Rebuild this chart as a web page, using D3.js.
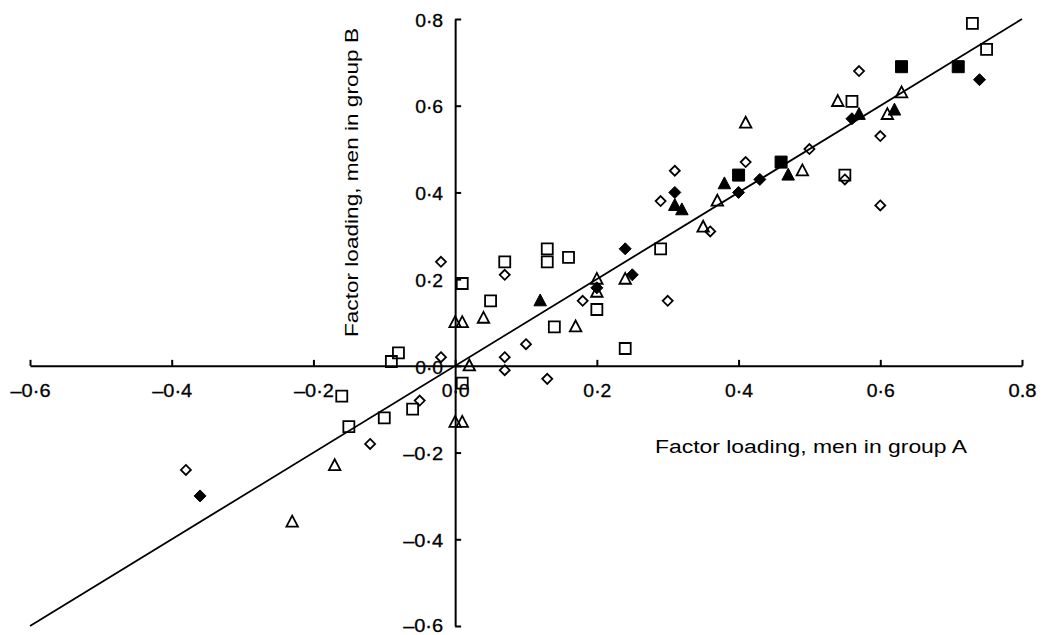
<!DOCTYPE html>
<html lang="en">

<head>
	<meta charset="utf-8">
	<style>
		body {
			margin: 0;
			background-color: white;
		}

		svg {
			background-color: white;
			font-family: 'Liberation Sans', Arial, sans-serif;
		}

		.axis path,
		.axis line {
			stroke: black;
			stroke-width: 2px;
		}

		.title {
			font-size: 18px;
			fill: black;
		}

		.identity {
			stroke: black;
			stroke-width: 1.8px;
			fill: none;
		}
	</style>
</head>

<body>
	<svg width="1044" height="635"></svg>
	<script src="https://d3js.org/d3.v7.min.js"></script>
	<script>
		// loadings: [group A, group B]
		const openDiamond = [
			[0.57, 0.68], [0.60, 0.53], [0.60, 0.37], [0.50, 0.50], [0.41, 0.47], [0.55, 0.43],
			[0.36, 0.31], [0.31, 0.45], [0.29, 0.38], [0.18, 0.15], [0.30, 0.15], [-0.02, 0.24],
			[0.07, 0.21], [0.10, 0.05], [0.07, 0.02], [0.07, -0.01], [0.13, -0.03], [-0.02, 0.02],
			[-0.05, -0.08], [-0.38, -0.24], [-0.12, -0.18]
		];
		const filledDiamond = [
			[0.74, 0.66], [0.56, 0.57], [0.43, 0.43], [0.40, 0.40], [0.24, 0.27], [0.25, 0.21],
			[0.31, 0.40], [0.20, 0.18], [-0.36, -0.30]
		];
		const openTriangle = [
			[0.63, 0.63], [0.61, 0.58], [0.54, 0.61], [0.41, 0.56], [0.49, 0.45], [0.37, 0.38],
			[0.35, 0.32], [0.24, 0.20], [0.17, 0.09], [0.20, 0.20], [0.20, 0.17], [0.04, 0.11],
			[0.01, 0.10], [0.00, 0.10], [0.02, 0.00], [0.00, -0.13], [0.01, -0.13], [-0.17, -0.23],
			[-0.23, -0.36]
		];
		const filledTriangle = [
			[0.62, 0.59], [0.57, 0.58], [0.47, 0.44], [0.38, 0.42], [0.31, 0.37], [0.32, 0.36],
			[0.12, 0.15]
		];
		const openSquare = [
			[0.73, 0.79], [0.75, 0.73], [0.56, 0.61], [0.55, 0.44], [0.29, 0.27], [0.13, 0.27],
			[0.13, 0.24], [0.16, 0.25], [0.07, 0.24], [0.01, 0.19], [0.05, 0.15], [0.14, 0.09],
			[0.20, 0.13], [0.24, 0.04], [-0.09, 0.01], [-0.08, 0.03], [0.01, -0.04], [-0.16, -0.07],
			[-0.15, -0.14], [-0.10, -0.12], [-0.06, -0.10]
		];
		const filledSquare = [
			[0.63, 0.69], [0.71, 0.69], [0.46, 0.47], [0.40, 0.44]
		];

		const tickValues = [-0.6, -0.4, -0.2, 0, 0.2, 0.4, 0.6, 0.8];
		const xTickLabels = ["–0·6", "–0·4", "–0·2", "0·0", "0·2", "0·4", "0·6", "0.8"];
		const yTickLabels = ["–0·6", "–0·4", "–0·2", "0·0", "0·2", "0·4", "0·6", "0·8"];
		const identityLine = [[-0.6, -0.6], [0.8, 0.8]];

		const xTitle = "Factor loading, men in group A";
		const yTitle = "Factor loading, men in group B";

		//basic set up
		const svg = d3.select("svg");
		const x = d3.scaleLinear().domain([-0.6, 0.8]).range([30, 1022]);
		const y = d3.scaleLinear().domain([-0.6, 0.8]).range([626, 19]);

		// the printed digits are wider than Liberation Sans, so stretch each label
		const styleTicks = function (g) {
			g.attr("font-family", null).attr("font-size", null);
			g.selectAll("text")
				.attr("font-size", 18)
				.attr("fill", "black")
				.attr("stroke", "black")
				.attr("stroke-width", 0.3)
				.attr("textLength", function () { return this.textContent.length > 3 ? 40 : 28; })
				.attr("lengthAdjust", "spacingAndGlyphs");
		}

		// axes cross at the origin
		const xAxis = d3.axisBottom(x)
			.tickValues(tickValues)
			.tickSizeInner(-6)
			.tickSizeOuter(0)
			.tickPadding(18)
			.tickFormat((d, i) => xTickLabels[i]);
		const yAxis = d3.axisLeft(y)
			.tickValues(tickValues)
			.tickSizeInner(-6)
			.tickSizeOuter(0)
			.tickPadding(12)
			.tickFormat((d, i) => yTickLabels[i]);

		svg.append("g")
			.attr("class", "axis x-axis")
			.attr("transform", "translate(0," + y(0) + ")")
			.call(xAxis)
			.call(styleTicks);

		svg.append("g")
			.attr("class", "axis y-axis")
			.attr("transform", "translate(" + x(0) + ",0)")
			.call(yAxis)
			.call(styleTicks)
			.call(g => g.selectAll("text").attr("dy", (d, i) => i === 0 ? "0.3em" : "0.4em"));

		// line of identity
		const line = d3.line().x(d => x(d[0])).y(d => y(d[1]));
		svg.append("path")
			.datum(identityLine)
			.attr("class", "identity")
			.attr("d", line);

		// marker shapes
		const squarePath = s => `M${-s / 2},${-s / 2}H${s / 2}V${s / 2}H${-s / 2}Z`;
		const diamondPath = s => `M0,${-s / 2}L${s / 2},0L0,${s / 2}L${-s / 2},0Z`;
		const trianglePath = s => `M0,${-s * 0.55}L${s / 2},${s * 0.4}L${-s / 2},${s * 0.4}Z`;

		const drawMarkers = function (data, cls, path, filled) {
			svg.append("g")
				.attr("class", cls)
				.selectAll("path")
				.data(data)
				.enter().append("path")
				.attr("d", path)
				.attr("transform", d => "translate(" + x(d[0]) + "," + y(d[1]) + ")")
				.attr("fill", filled ? "black" : "none")
				.attr("stroke", "black")
				.attr("stroke-width", filled ? 1 : 1.8)
				.attr("stroke-linejoin", "miter");
		}

		drawMarkers(openSquare, "open-square", squarePath(11), false);
		drawMarkers(filledSquare, "filled-square", squarePath(12), true);
		drawMarkers(openTriangle, "open-triangle", trianglePath(11.5), false);
		drawMarkers(filledTriangle, "filled-triangle", trianglePath(12.5), true);
		drawMarkers(openDiamond, "open-diamond", diamondPath(10), false);
		drawMarkers(filledDiamond, "filled-diamond", diamondPath(12), true);

		// axis titles
		svg.append("text")
			.attr("class", "title")
			.attr("x", 655)
			.attr("y", 453)
			.attr("textLength", 312)
			.attr("lengthAdjust", "spacingAndGlyphs")
			.text(xTitle);

		svg.append("text")
			.attr("class", "title")
			.attr("transform", "translate(358,337) rotate(-90)")
			.attr("textLength", 309)
			.attr("lengthAdjust", "spacingAndGlyphs")
			.text(yTitle);
	</script>
</body>

</html>
